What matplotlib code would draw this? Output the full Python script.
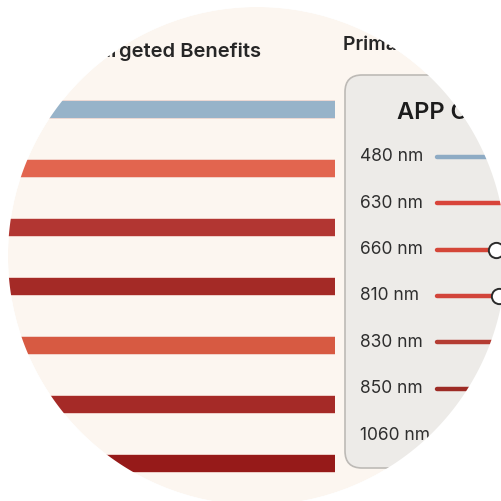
import numpy as np
import matplotlib.pyplot as plt
from matplotlib.patches import Circle, FancyBboxPatch, PathPatch
from matplotlib.path import Path

# ================= DATA =================
wavelengths = ["480 nm", "630 nm", "660 nm", "810 nm", "830 nm", "850 nm", "1060 nm"]
benefit_score = [100, 100, 100, 100, 100, 100, 100]
bar_colors = ["#97b3c9", "#e2654f", "#b23632", "#a42a26", "#d75a42", "#a52a27", "#961a19"]

line_colors = ["#8eabc4", "#d8443a", "#d44638", "#d2443a", "#b43c32", "#9d2b25", "#8a1d1a"]
slider_pos = [None, None, 0.70, 0.717, None, None, None]

title_text = "Targeted Benefits"
sub_text = "Primary Wavelengths"
panel_title = "APP Controls"

plt.rcParams['font.family'] = ['Inter', 'DejaVu Sans']

W = 501
CX, CY, R = 257 / W, 1 - 256 / W, 249 / W
fig = plt.figure(figsize=(5.01, 5.01), dpi=100)
fig.patch.set_facecolor("white")

# ---- background / decorations in pixel space ----
ax = fig.add_axes([0, 0, 1, 1])
ax.set_xlim(0, W)
ax.set_ylim(W, 0)
ax.axis("off")

ax.add_patch(Circle((CX, CY), R, transform=fig.transFigure,
                    facecolor="#fcf6f0", edgecolor="none"))

ax.add_patch(FancyBboxPatch((345, 75), 220, 393, boxstyle="round,pad=0,rounding_size=17",
                            facecolor="#edebe8", edgecolor="#bdbab6", linewidth=1.2))

ax.text(261, 52, title_text, ha="right", va="center", fontsize=14.5,
        weight="semibold", color="#262626")
ax.text(343, 45, sub_text, ha="left", va="center", fontsize=14,
        weight="semibold", color="#262626")
ax.text(397, 113, panel_title, ha="left", va="center", fontsize=17,
        weight="semibold", color="#1c1c1c")

# ---- bars ----
top, bottom = 109 - 29.5, 463 + 29.5
axb = fig.add_axes([0, 1 - bottom / W, 335 / W, (bottom - top) / W])
axb.set_facecolor("none")
axb.axis("off")
axb.barh(range(len(wavelengths)), benefit_score, height=0.3,
         color=bar_colors, edgecolor="#f3d9d2", linewidth=0.6)
axb.set_xlim(0, 100)
axb.set_ylim(len(wavelengths) - 0.5, -0.5)

# ---- legend rows ----
ltop, lbot = 157 - 23.17, 435 + 23.17
axl = fig.add_axes([345 / W, 1 - lbot / W, 215 / W, (lbot - ltop) / W])
axl.set_facecolor("none")
axl.axis("off")
axl.set_xlim(0, 1)
axl.set_ylim(len(wavelengths) - 0.5, -0.5)
for i, (lab, c, s) in enumerate(zip(wavelengths, line_colors, slider_pos)):
    axl.text(0.07, i, lab, ha="left", va="center", fontsize=12.5, color="#2e2e2e")
    axl.plot([0.43, 1.0], [i, i], color=c, lw=3.2, solid_capstyle="round")
    if s is not None:
        axl.plot([s], [i], marker="o", ms=11, mfc="white", mec="#2b2b2b", mew=1.4)

# ---- circular crop: white mask with a round hole on top ----
axm = fig.add_axes([0, 0, 1, 1], zorder=10)
axm.set_xlim(0, 1)
axm.set_ylim(0, 1)
axm.axis("off")
t = np.linspace(0, 2 * np.pi, 721)[::-1]
hole_pts = np.column_stack([CX + R * np.cos(t), CY + R * np.sin(t)])
rect_pts = np.array([(-0.1, -0.1), (1.1, -0.1), (1.1, 1.1), (-0.1, 1.1), (-0.1, -0.1)])
verts = np.vstack([rect_pts, hole_pts])
codes = ([Path.MOVETO] + [Path.LINETO] * 3 + [Path.CLOSEPOLY]
         + [Path.MOVETO] + [Path.LINETO] * (len(hole_pts) - 2) + [Path.CLOSEPOLY])
axm.add_patch(PathPatch(Path(verts, codes), facecolor="white", edgecolor="none"))

fig.savefig("out.png", dpi=100, facecolor="white")
